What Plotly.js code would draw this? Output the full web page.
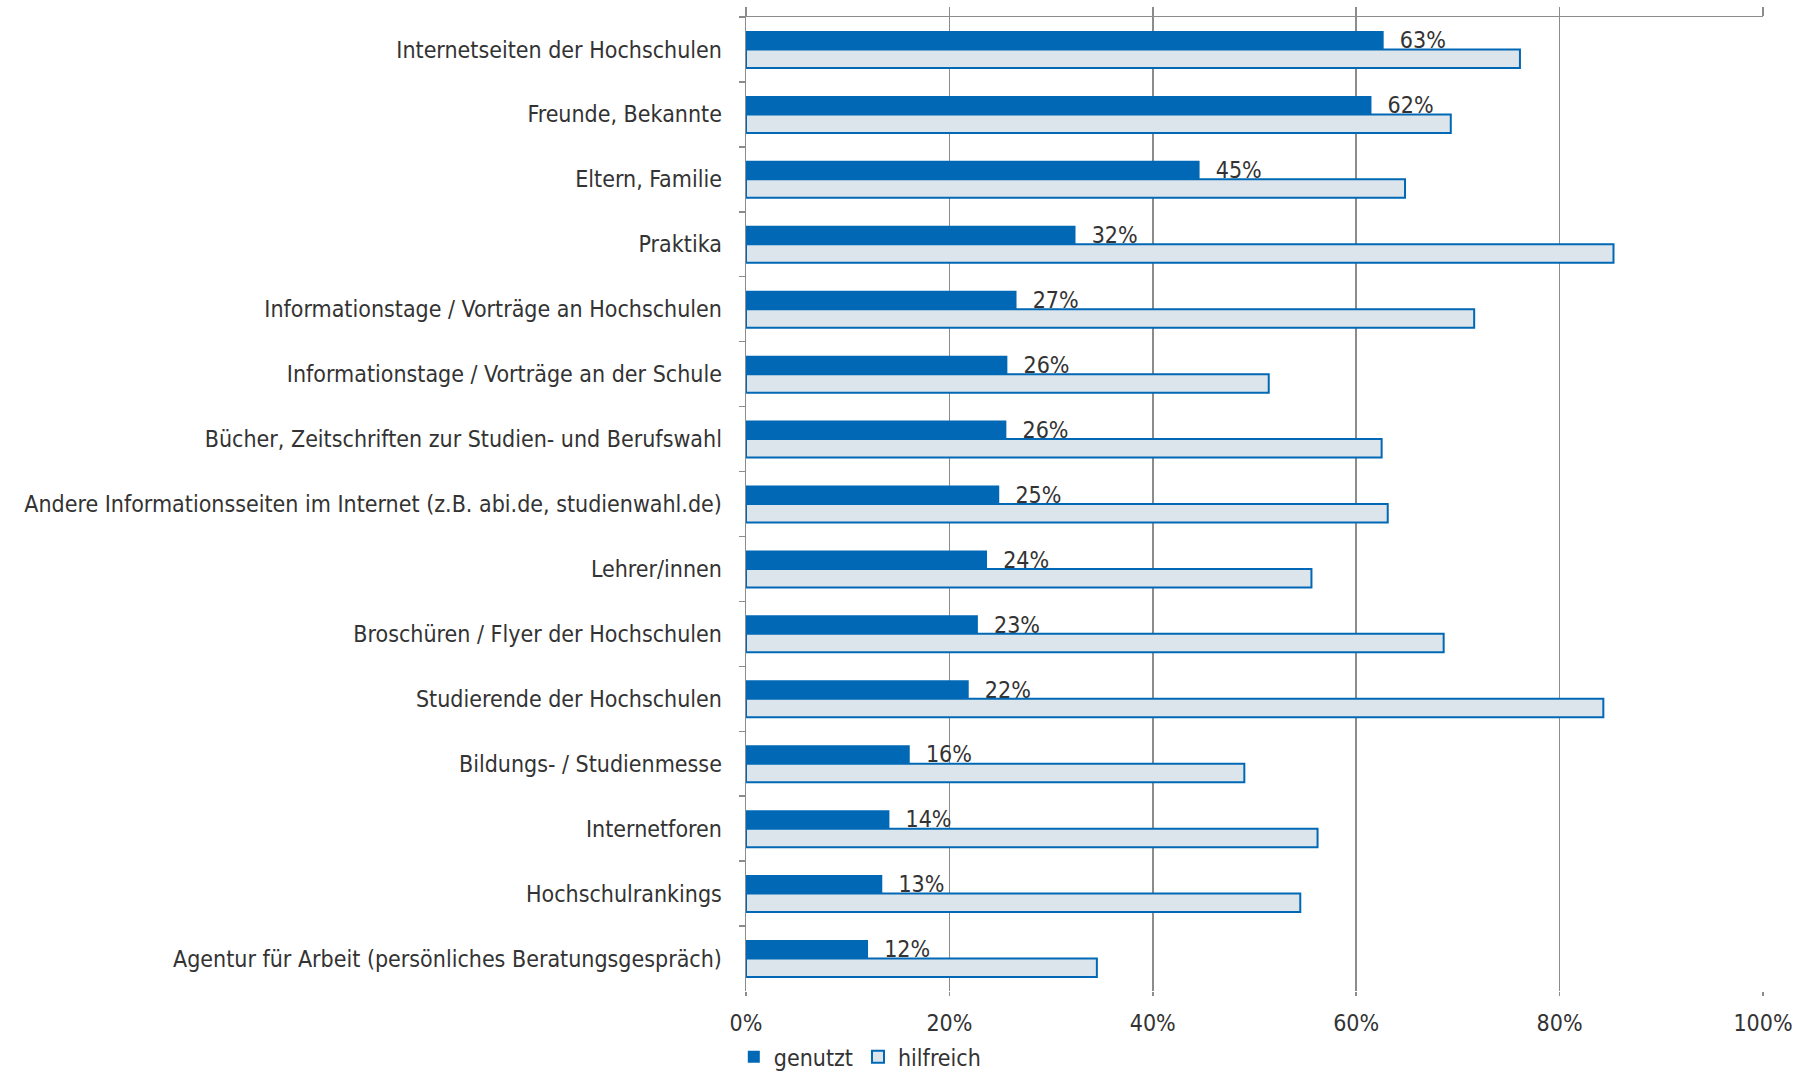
<!DOCTYPE html>
<html>
<head>
<meta charset="utf-8">
<script src="https://cdn.plot.ly/plotly-3.0.1.min.js"></script>
<style>
html,body{margin:0;padding:0;background:#fff;}
#chart{width:1817px;height:1073px;}
</style>
</head>
<body>
<div id="chart"></div>
<script>
const categories = [
  "Internetseiten der Hochschulen",
  "Freunde, Bekannte",
  "Eltern, Familie",
  "Praktika",
  "Informationstage / Vorträge an Hochschulen",
  "Informationstage / Vorträge an der Schule",
  "Bücher, Zeitschriften zur Studien- und Berufswahl",
  "Andere Informationsseiten im Internet (z.B. abi.de, studienwahl.de)",
  "Lehrer/innen",
  "Broschüren / Flyer der Hochschulen",
  "Studierende der Hochschulen",
  "Bildungs- / Studienmesse",
  "Internetforen",
  "Hochschulrankings",
  "Agentur für Arbeit (persönliches Beratungsgespräch)"
];
const genutzt = [62.7, 61.5, 44.6, 32.4, 26.6, 25.7, 25.6, 24.9, 23.7, 22.8, 21.9, 16.1, 14.1, 13.4, 12.0];
const hilfreich = [76.1, 69.3, 64.8, 85.3, 71.6, 51.4, 62.5, 63.1, 55.6, 68.6, 84.3, 49.0, 56.2, 54.5, 34.5];
const xTicks = [0, 20, 40, 60, 80, 100];
const xTickLabels = ["0%", "20%", "40%", "60%", "80%", "100%"];
const seriesNames = ["genutzt", "hilfreich"];

const FONT = "'DejaVu Sans Condensed', 'Liberation Sans Narrow', sans-serif";
const FS = 23;
const BLUE = "#0068b4";
const LIGHT = "#dde5ec";
const GRID = "#8c8c8c";
const TXT = "#333333";

const nCat = categories.length;

const traces = [
  {
    type: "bar", orientation: "h", name: seriesNames[0],
    y: categories, x: genutzt,
    marker: {color: BLUE, line: {width: 0}},
    texttemplate: "\u00a0\u00a0%{x:.0f}%", textposition: "outside",
    constraintext: "none",
    textfont: {family: FONT, size: FS, color: TXT},
    cliponaxis: false,
    hoverinfo: "x+y"
  },
  {
    type: "bar", orientation: "h", name: seriesNames[1],
    y: categories, x: hilfreich,
    marker: {color: LIGHT, line: {color: BLUE, width: 2}},
    hoverinfo: "x+y"
  },
  {
    type: "scatter", x: [0, 100], y: [categories[0], categories[0]],
    xaxis: "x2", mode: "markers", marker: {opacity: 0}, showlegend: false, hoverinfo: "skip"
  }
];

const layout = {
  width: 1817, height: 1073,
  margin: {l: 746, r: 54, t: 17, b: 82, pad: 0, autoexpand: false},
  paper_bgcolor: "#fff", plot_bgcolor: "#fff",
  font: {family: FONT, size: FS, color: TXT},
  barmode: "group", bargap: 0.43, bargroupgap: 0,
  showlegend: true,
  legend: {orientation: "h", xref: "paper", x: -0.012, xanchor: "left",
           yref: "container", y: 0.015, yanchor: "middle",
           font: {family: FONT, size: FS, color: TXT}, itemwidth: 30, tracegroupgap: 0,
           traceorder: "normal", bgcolor: "rgba(0,0,0,0)"},
  xaxis: {
    range: [0, 100], tickvals: xTicks, ticktext: xTickLabels,
    showgrid: true, gridcolor: GRID, gridwidth: 1.5,
    zeroline: false, showline: false,
    ticks: "outside", ticklen: 4, tickcolor: GRID, tickwidth: 1.5,
    ticklabelstandoff: 7,
    tickfont: {family: FONT, size: FS, color: TXT},
    fixedrange: true
  },
  xaxis2: {
    overlaying: "x", side: "top", range: [0, 100], tickvals: xTicks,
    showticklabels: false, showgrid: false, zeroline: false,
    showline: true, linecolor: GRID, linewidth: 1.5,
    ticks: "outside", ticklen: 9, tickcolor: GRID, tickwidth: 1.5
  },
  yaxis: {
    type: "category", range: [nCat - 0.5, -0.5], autorange: false,
    showgrid: false, zeroline: false,
    showline: true, linecolor: GRID, linewidth: 1.5,
    ticks: "outside", tickson: "boundaries", ticklen: 6, tickcolor: GRID, tickwidth: 1.5,
    ticklabelstandoff: 18,
    tickfont: {family: FONT, size: FS, color: TXT},
    fixedrange: true
  }
};

Plotly.newPlot("chart", traces, layout, {displayModeBar: false, staticPlot: true});
</script>
</body>
</html>
